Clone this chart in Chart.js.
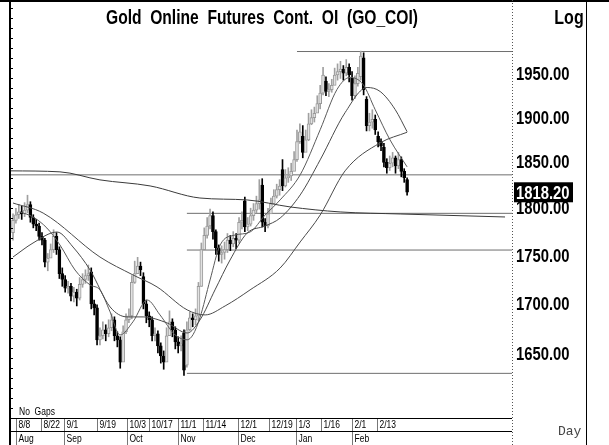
<!DOCTYPE html>
<html>
<head>
<meta charset="utf-8">
<script src="https://cdn.jsdelivr.net/npm/chart.js@4.4.1/dist/chart.umd.min.js"></script>
<style>
  html, body { margin: 0; padding: 0; background: #fff; }
  #wrap { width: 609px; height: 445px; }
</style>
</head>
<body>
<div id="wrap"><canvas id="goldChart" width="609" height="445"></canvas></div>
<script>
// daily candles (index 0 = first bar on the left)
const opens = [1775,1788,1794,1797,1795,1799,1805,1791,1784,1782,1771,1767,1744,1748,1757,1771,1757,1732,1726,1717,
  1719,1709,1713,1707,1721,1726,1730,1734,1701,1697,1665,1669,1675,1671,1677,1685,1669,1665,1643,1673,
  1685,1689,1723,1732,1740,1729,1701,1689,1685,1669,1671,1659,1649,1643,1669,1683,1675,1663,1659,1672,
  1640,1675,1687,1685,1689,1719,1757,1772,1782,1793,1776,1759,1752,1754,1757,1767,1763,1769,1767,1786,
  1809,1781,1784,1793,1799,1806,1826,1786,1782,1795,1806,1814,1821,1843,1825,1834,1836,1841,1854,1874,
  1880,1862,1876,1894,1901,1906,1917,1929,1943,1931,1933,1938,1950,1954,1957,1952,1959,1946,1926,1940,
  1948,1970,1922,1892,1896,1899,1880,1874,1868,1851,1845,1850,1856,1847,1854,1841,1832];
const highs = [1795,1801,1805,1803,1807,1815,1808,1794,1789,1785,1775,1769,1753,1763,1778,1775,1760,1738,1730,1724,
  1722,1718,1716,1728,1732,1736,1741,1738,1705,1700,1677,1683,1680,1685,1691,1688,1673,1668,1679,1691,
  1696,1730,1745,1749,1744,1733,1705,1693,1688,1677,1674,1662,1654,1677,1694,1686,1678,1668,1669,1675,
  1683,1693,1691,1696,1723,1764,1780,1791,1800,1797,1778,1762,1761,1765,1774,1772,1776,1774,1791,1797,
  1813,1791,1801,1806,1814,1832,1833,1790,1801,1812,1821,1827,1832,1854,1843,1845,1850,1863,1887,1894,
  1892,1887,1906,1910,1913,1926,1938,1959,1948,1940,1945,1958,1963,1966,1961,1968,1963,1954,1949,1959,
  1978,1976,1925,1906,1910,1904,1885,1877,1872,1855,1858,1862,1858,1862,1857,1844,1834];
const lows = [1767,1785,1790,1789,1792,1796,1786,1780,1777,1767,1762,1739,1735,1749,1754,1752,1727,1719,1713,1712,
  1704,1703,1699,1705,1718,1722,1725,1696,1690,1660,1660,1666,1664,1668,1674,1664,1658,1637,1655,1671,
  1682,1686,1722,1733,1730,1696,1682,1678,1664,1664,1652,1642,1636,1644,1674,1668,1656,1652,1654,1630,
  1638,1674,1678,1680,1684,1719,1762,1769,1779,1768,1752,1745,1743,1747,1754,1756,1760,1758,1764,1779,
  1776,1777,1782,1788,1796,1800,1781,1776,1780,1796,1807,1812,1815,1820,1824,1829,1831,1844,1852,1872,
  1856,1864,1875,1893,1896,1909,1911,1927,1926,1925,1930,1939,1944,1946,1944,1949,1942,1921,1923,1937,
  1944,1927,1886,1886,1889,1882,1868,1864,1846,1839,1842,1846,1839,1844,1835,1829,1815];
const closes = [1788,1794,1797,1795,1799,1805,1791,1784,1782,1771,1767,1744,1748,1757,1771,1757,1732,1726,1717,1719,
  1709,1713,1707,1721,1726,1730,1732,1701,1697,1665,1669,1675,1671,1677,1685,1669,1665,1643,1673,1685,
  1689,1723,1732,1740,1736,1701,1689,1685,1669,1671,1659,1649,1643,1669,1683,1675,1663,1659,1661,1635,
  1675,1687,1685,1689,1719,1757,1772,1782,1793,1776,1759,1752,1754,1757,1767,1763,1769,1767,1786,1788,
  1781,1784,1793,1799,1806,1810,1786,1782,1795,1806,1814,1821,1825,1825,1834,1836,1841,1854,1874,1885,
  1862,1876,1894,1901,1906,1917,1929,1950,1931,1933,1938,1950,1954,1957,1952,1959,1950,1926,1940,1952,
  1972,1933,1892,1896,1899,1887,1874,1869,1851,1845,1850,1856,1847,1854,1841,1834,1818.2];

// moving averages, sampled along each curve: bar index and price
const maLongX = [-1, 16.2, 30, 47.3, 64.5, 80.8, 95.6, 112.9, 133.6, 169.8];
const maLongY = [1841.6, 1840.5, 1831.7, 1825.1, 1812.0, 1809.9, 1802.4, 1797.0, 1794.8, 1791.6];
const maMidX = [0, 10.4, 30, 41.4, 49.7, 60.1, 66.3, 73.2, 81.8, 92.2, 99.1, 106, 114.6, 126.7, 136];
const maMidY = [1806.6, 1795.8, 1749.3, 1730.7, 1718.4, 1695.0, 1689.9, 1699.0, 1715.3, 1737.9, 1765.1, 1793.7, 1841.6, 1872.6, 1884.5];
const maShortX = [0, 6.9, 15.2, 20.7, 26.6, 33.5, 39.4, 44.9, 53.2, 60.1, 64.5, 69.7, 74.9, 80.8, 87, 92.2, 99.1, 106, 114.6, 122.2, 126.7, 131.9, 136];
const maShortY = [1749.3, 1764.0, 1775.6, 1759.8, 1735.8, 1698.0, 1687.9, 1687.9, 1681.8, 1671.8, 1684.8, 1715.3, 1746.2, 1774.5, 1782.0, 1790.5, 1815.3, 1853.7, 1906.7, 1935.5, 1930.9, 1910.1, 1885.1];
const maFastX = [2.4, 6.9, 11.7, 16.2, 21.4, 26.6, 30, 33.5, 36.9, 41.4, 46.3, 50.7, 55.9, 60.1, 62.1, 64.5, 68, 71.5, 76.6, 81.8, 87, 92.2, 99.1, 106, 111.8, 116.3, 120.8, 125, 130.1, 136];
const maFastY = [1797, 1791.6, 1779.8, 1761.9, 1735.8, 1720.4, 1715.3, 1693, 1669.8, 1683, 1705, 1690, 1670, 1665, 1670, 1687, 1725.5, 1762, 1772.4, 1775.6, 1793.7, 1810, 1837.2, 1887.3, 1933.2, 1947.2, 1939, 1910, 1876, 1846];

// horizontal levels: price and the bar index where each starts
const levelPrices = [1977.5, 1837.2, 1795.5, 1756.6, 1632];
const levelStarts = [98, -1.04, 60, 60, 60];

const priceTicks = [1650, 1700, 1750, 1800, 1850, 1900, 1950];
const dateLabels = ['8/8', '8/22', '9/1', '9/19', '10/3', '10/17', '11/1', '11/14', '12/1', '12/19', '1/3', '1/16', '2/1', '2/13'];
const datePos = [1.2, 9.5, 17.5, 29, 39.4, 47, 56.9, 65.7, 77.8, 88.5, 97.8, 106.4, 117.1, 125.7];
const monthLabels = ['Aug', 'Sep', 'Oct', 'Nov', 'Dec', 'Jan', 'Feb'];
const monthPos = [1.2, 17.5, 39.4, 56.9, 77.8, 97.8, 117.1];

const xMin = -1.04, xMax = 172.2;
const sansFont = '"Liberation Sans", Arial, sans-serif';

const wickData = [], bodyData = [], wickColors = [], bodyFill = [], bodyEdge = [];
closes.forEach((c, i) => {
    const o = opens[i];
    const up = c >= o;
    wickData.push({ x: i, y: [lows[i], highs[i]] });
    let lo = Math.min(o, c), hi = Math.max(o, c);
    if (hi - lo < 1) hi = lo + 1;
    bodyData.push({ x: i, y: [lo, hi] });
    wickColors.push(up ? '#a0a0a0' : '#000000');
    bodyFill.push(up ? '#e2e2e2' : '#000000');
    bodyEdge.push(up ? '#9a9a9a' : '#000000');
});

const toPoints = (xs, ys) => xs.map((x, i) => ({ x: x, y: ys[i] }));

const lineSet = (pts, color) => ({
    type: 'line',
    data: pts,
    borderColor: color,
    borderWidth: 1,
    pointRadius: 0,
    cubicInterpolationMode: 'monotone',
    fill: false,
    order: 1
});

const levelSets = levelPrices.map((p, i) => ({
    type: 'line',
    data: [{ x: levelStarts[i], y: p }, { x: xMax, y: p }],
    borderColor: '#6e6e6e',
    borderWidth: 1,
    pointRadius: 0,
    order: 4
}));

// condensed text: the source chart uses a narrow face
function narrowText(ctx, text, x, y, font, squeeze, align) {
    ctx.save();
    ctx.font = font;
    ctx.textBaseline = 'middle';
    ctx.textAlign = align || 'left';
    ctx.translate(x, y);
    ctx.scale(squeeze, 1);
    ctx.fillText(text, 0, 0);
    ctx.restore();
}

const framePlugin = {
    id: 'frame',
    afterDraw(chart) {
        const ctx = chart.ctx;
        const xs = chart.scales.x;
        const ys = chart.scales.y;
        const area = chart.chartArea;
        ctx.save();

        // borders
        ctx.strokeStyle = '#000';
        ctx.lineWidth = 2;
        ctx.beginPath();
        ctx.moveTo(0, 1); ctx.lineTo(609, 1);
        ctx.moveTo(10, 0); ctx.lineTo(10, 445);
        ctx.stroke();
        ctx.lineWidth = 1;
        ctx.beginPath();
        ctx.moveTo(586.5, 0); ctx.lineTo(586.5, 445);
        ctx.stroke();
        for (let y = 8; y < 418; y += 10) {
            ctx.beginPath();
            ctx.moveTo(11, y + 0.5); ctx.lineTo(13, y + 0.5);
            ctx.stroke();
        }
        ctx.setLineDash([1, 2]);
        ctx.strokeStyle = '#555';
        ctx.beginPath();
        ctx.moveTo(area.right + 0.5, 0); ctx.lineTo(area.right + 0.5, 445);
        ctx.stroke();
        ctx.setLineDash([]);

        // title
        ctx.fillStyle = '#000';
        narrowText(ctx, 'Gold  Online  Futures  Cont.  OI  (GO_COI)', 262, 18, 'bold 20px ' + sansFont, 0.78, 'center');
        narrowText(ctx, 'Log', 569, 18, 'bold 20px ' + sansFont, 0.8, 'center');

        // price labels from the log axis
        ys.ticks.forEach(t => {
            narrowText(ctx, t.value.toFixed(2), area.right + 4, ys.getPixelForValue(t.value), 'bold 19px ' + sansFont, 0.78);
        });
        const last = closes[closes.length - 1];
        const ly = ys.getPixelForValue(last);
        ctx.fillStyle = '#000';
        ctx.fillRect(area.right + 2, ly - 10, 59, 20);
        ctx.fillStyle = '#fff';
        narrowText(ctx, last.toFixed(2), area.right + 4, ly + 1, 'bold 19px ' + sansFont, 0.78);

        // date rows
        ctx.fillStyle = '#000';
        narrowText(ctx, 'No  Gaps', 19, 412, '10px ' + sansFont, 0.85);
        ctx.strokeStyle = '#000';
        ctx.lineWidth = 1;
        ctx.beginPath();
        ctx.moveTo(10, 418.5); ctx.lineTo(area.right, 418.5);
        ctx.moveTo(10, 431.5); ctx.lineTo(area.right, 431.5);
        ctx.stroke();
        ctx.strokeStyle = '#777';
        dateLabels.forEach((lab, i) => {
            const px = Math.round(xs.getPixelForValue(datePos[i])) + 0.5;
            ctx.beginPath();
            ctx.moveTo(px, 419); ctx.lineTo(px, 431);
            ctx.stroke();
            narrowText(ctx, lab, px + 2, 425.5, '10px ' + sansFont, 0.85);
        });
        monthLabels.forEach((lab, i) => {
            const px = Math.round(xs.getPixelForValue(monthPos[i])) + 0.5;
            ctx.beginPath();
            ctx.moveTo(px, 432); ctx.lineTo(px, 445);
            ctx.stroke();
            narrowText(ctx, lab, px + 2, 439, '10px ' + sansFont, 0.85);
        });

        ctx.fillStyle = '#444';
        ctx.font = '13px "Liberation Mono", "DejaVu Sans Mono", monospace';
        ctx.textBaseline = 'middle';
        ctx.fillText('Day', 558, 432);
        ctx.restore();
    }
};

const chart = new Chart(document.getElementById('goldChart').getContext('2d'), {
    type: 'bar',
    data: {
        datasets: [
            lineSet(toPoints(maLongX, maLongY), '#3a3a3a'),
            lineSet(toPoints(maMidX, maMidY), '#4a4a4a'),
            lineSet(toPoints(maShortX, maShortY), '#4a4a4a'),
            lineSet(toPoints(maFastX, maFastY), '#5a5a5a'),
            ...levelSets,
            {
                type: 'bar',
                data: bodyData,
                backgroundColor: bodyFill,
                borderColor: bodyEdge,
                borderWidth: 1,
                borderSkipped: false,
                barThickness: 3,
                grouped: false,
                order: 2
            },
            {
                type: 'bar',
                data: wickData,
                backgroundColor: wickColors,
                barThickness: 1,
                grouped: false,
                order: 3
            }
        ]
    },
    options: {
        responsive: false,
        animation: false,
        layout: { padding: { left: 10, top: 2, right: 23, bottom: 27 } },
        plugins: { legend: { display: false }, tooltip: { enabled: false } },
        scales: {
            x: {
                type: 'linear',
                min: xMin,
                max: xMax,
                offset: false,
                display: false
            },
            y: {
                type: 'logarithmic',
                position: 'right',
                min: 1589.1,
                max: 2036.8,
                grid: { display: false },
                border: { display: false },
                afterBuildTicks: (scale) => {
                    scale.ticks = priceTicks.map(v => ({ value: v }));
                },
                afterFit: (scale) => { scale.width = 74; },
                ticks: { display: false }
            }
        }
    },
    plugins: [framePlugin]
});
</script>
</body>
</html>
